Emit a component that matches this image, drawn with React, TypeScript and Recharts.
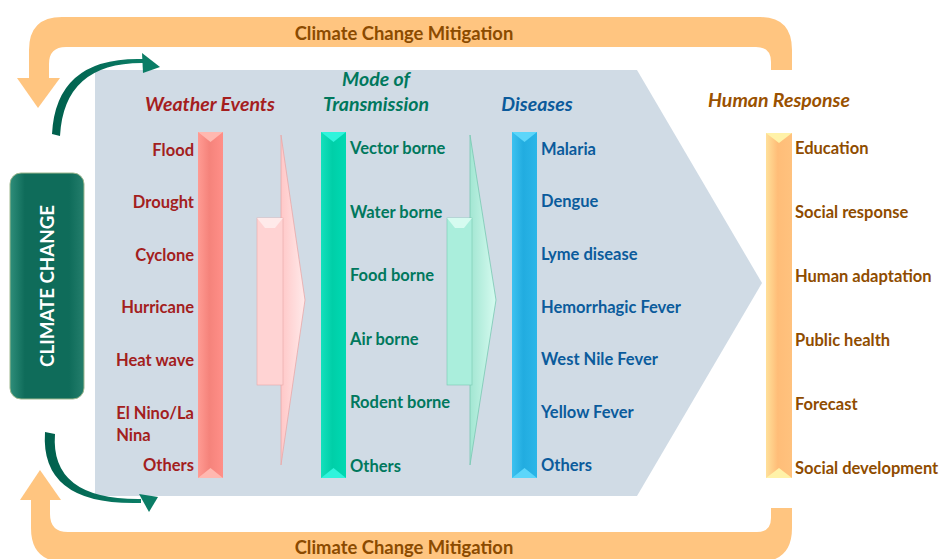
import React from 'react';
import { ComposedChart, XAxis, YAxis, Scatter, Customized } from 'recharts';

// chart content
const weatherEvents = ['Flood', 'Drought', 'Cyclone', 'Hurricane', 'Heat wave', 'El Nino/La Nina', 'Others'];
const transmissionModes = ['Vector borne', 'Water borne', 'Food borne', 'Air borne', 'Rodent borne', 'Others'];
const diseases = ['Malaria', 'Dengue', 'Lyme disease', 'Hemorrhagic Fever', 'West Nile Fever', 'Yellow Fever', 'Others'];
const humanResponses = ['Education', 'Social response', 'Human adaptation', 'Public health', 'Forecast', 'Social development'];
const columnTitles = ['Weather Events', 'Mode of Transmission', 'Diseases', 'Human Response'];
const mitigationLabel = 'Climate Change Mitigation';
const centerLabel = 'CLIMATE CHANGE';

const W = 941;
const H = 559;
const FONT = 'Lato, "Open Sans", sans-serif';
const LABEL_SIZE = 16.5;
const LABEL_FONT = `700 ${LABEL_SIZE}px ${FONT}`;

type Column = {
  id: string;
  labels: string[];
  x: number;
  anchor: 'start' | 'end';
  top: number;
  step: number;
  color: string;
  wrap?: number;
};

const COLUMNS: Column[] = [
  { id: 'weather', labels: weatherEvents, x: 194, anchor: 'end', top: 149.5, step: 52.6, color: '#a3201d', wrap: 90 },
  { id: 'transmission', labels: transmissionModes, x: 350, anchor: 'start', top: 148, step: 63.6, color: '#00785d' },
  { id: 'diseases', labels: diseases, x: 541, anchor: 'start', top: 148.6, step: 52.7, color: '#0b5b9c' },
  { id: 'response', labels: humanResponses, x: 795, anchor: 'start', top: 147.5, step: 64, color: '#8f4c00' },
];

const BARS = [
  { x: 198, w: 25, top: 132, bottom: 478, left: '#ff9b93', mid: '#f5837b', right: '#ff8f88', bevel: '#ffb8b0' },
  { x: 321, w: 25, top: 132, bottom: 478, left: '#14e0bc', mid: '#00cfa8', right: '#00d9b2', bevel: '#30f4dc' },
  { x: 512, w: 25, top: 132, bottom: 478, left: '#3cc2f0', mid: '#22ace0', right: '#2bb6e8', bevel: '#5cd6fa' },
  { x: 766, w: 26, top: 133, bottom: 478, left: '#ffe09a', mid: '#ffbd78', right: '#ffc27e', bevel: '#fff2a8' },
];

const ARROWS = [
  { x: 257, w: 26, top: 218, bottom: 385, headTop: 135, headBottom: 465, tip: 305, body: '#ffd3d3', head: '#ffc8c8', light: '#ffeaea', edge: '#e8a8a8' },
  { x: 447, w: 25, top: 218, bottom: 385, headTop: 135, headBottom: 465, tip: 496, body: '#aaeedc', head: '#a2e6d2', light: '#d6fbf0', edge: '#78c8b2' },
];

let measureCtx: CanvasRenderingContext2D | null = null;
function textWidth(s: string, font: string) {
  if (!measureCtx) measureCtx = document.createElement('canvas').getContext('2d');
  if (!measureCtx) return s.length * 8;
  measureCtx.font = font;
  return measureCtx.measureText(s).width;
}

function wrapText(label: string, max: number, font: string) {
  const words = label.split(' ');
  const lines: string[] = [];
  let cur = '';
  words.forEach((w) => {
    const next = cur ? cur + ' ' + w : w;
    if (cur && textWidth(next, font) > max) {
      lines.push(cur);
      cur = w;
    } else {
      cur = next;
    }
  });
  if (cur) lines.push(cur);
  return lines;
}

const makeLabel = (col: Column) => (props: any) => {
  const { cx, cy, payload } = props;
  const lines = col.wrap ? wrapText(payload.name, col.wrap, LABEL_FONT) : [payload.name];
  const common = {
    fontFamily: FONT,
    fontWeight: 700,
    fontSize: LABEL_SIZE,
    fill: col.color,
    dominantBaseline: 'central' as const,
  };
  if (lines.length === 1) {
    return (
      <text x={cx} y={cy} textAnchor={col.anchor} {...common}>
        {payload.name}
      </text>
    );
  }
  const x0 = col.anchor === 'end' ? cx - textWidth(lines[0], LABEL_FONT) : cx;
  return (
    <text x={x0} y={cy} textAnchor="start" {...common}>
      {lines.map((l, i) => (
        <tspan key={i} x={x0} dy={i === 0 ? 0 : 22}>
          {l}
        </tspan>
      ))}
    </text>
  );
};

function Decor() {
  const titleStyle = { fontFamily: FONT, fontWeight: 700, fontStyle: 'italic' as const, fontSize: 19.5 };
  return (
    <g>
      <defs>
        {BARS.map((b, i) => (
          <linearGradient key={i} id={`bar${i}`} x1="0" x2="1" y1="0" y2="0">
            <stop offset="0" stopColor={b.left} />
            <stop offset="0.45" stopColor={b.mid} />
            <stop offset="1" stopColor={b.right} />
          </linearGradient>
        ))}
        {ARROWS.map((a, i) => (
          <linearGradient key={i} id={`arr${i}`} x1="0" x2="1" y1="0" y2="0">
            <stop offset="0" stopColor={a.head} />
            <stop offset="1" stopColor={a.light} />
          </linearGradient>
        ))}
        <linearGradient id="box" x1="0" x2="1" y1="0" y2="0">
          <stop offset="0" stopColor="#2f8e7a" />
          <stop offset="0.2" stopColor="#0f6c5a" />
          <stop offset="0.8" stopColor="#0f6c5a" />
          <stop offset="1" stopColor="#247e6c" />
        </linearGradient>
        <linearGradient id="swoosh" x1="0" x2="1" y1="0" y2="0">
          <stop offset="0" stopColor="#005f4c" />
          <stop offset="1" stopColor="#0b7d66" />
        </linearGradient>
      </defs>

      {/* big chevron background */}
      <polygon points="95,70 637,70 762,283 637,496 95,496" fill="#d0dbe5" />

      {/* orange mitigation loops */}
      <path
        d="M29,78 L29,50 Q29,17 62,17 L760,17 Q792,17 792,50 L792,70 L771,70 L771,62 Q771,47 756,47 L66,47 Q49,47 49,64 L49,78 Z"
        fill="#ffc580"
      />
      <polygon points="17,78 60,78 38,108" fill="#ffc580" />
      <path
        d="M31,500 L31,528 Q31,562 65,562 L758,562 Q792,562 792,528 L792,508 L771,508 L771,518 Q771,532 757,532 L68,532 Q50,532 50,514 L50,500 Z"
        fill="#ffc580"
      />
      <polygon points="20,500 61,500 40,470" fill="#ffc580" />
      <text x={404} y={33} textAnchor="middle" dominantBaseline="central" fontFamily={FONT} fontWeight={700} fontSize={18.4} fill="#8b4b00">
        {mitigationLabel}
      </text>
      <text x={404} y={547} textAnchor="middle" dominantBaseline="central" fontFamily={FONT} fontWeight={700} fontSize={18.4} fill="#8b4b00">
        {mitigationLabel}
      </text>

      {/* green swooshes */}
      <path d="M52,134 Q56,56 144,59 L144,63 Q64,62 60,136 Z" fill="url(#swoosh)" />
      <polygon points="142,53 160,67 143,73" fill="#0b7d66" />
      <path d="M45,432 Q40,506 141,503 L141,499 Q50,500 55,434 Z" fill="url(#swoosh)" />
      <polygon points="139,494 158,497 149,512" fill="#0b7d66" />

      {/* climate change box */}
      <rect x={10} y={173} width={74} height={226} rx={11} fill="url(#box)" stroke="#9fb88e" strokeWidth={1} />
      <text
        x={47}
        y={286}
        transform="rotate(-90 47 286)"
        textAnchor="middle"
        dominantBaseline="central"
        fontFamily={FONT}
        fontWeight={700}
        fontSize={18.7}
        fill="#ffffff"
      >
        {centerLabel}
      </text>

      {/* column bars */}
      {BARS.map((b, i) => (
        <g key={i}>
          <rect x={b.x} y={b.top} width={b.w} height={b.bottom - b.top} fill={`url(#bar${i})`} />
          <polygon points={`${b.x},${b.top} ${b.x + b.w},${b.top} ${b.x + b.w / 2},${b.top + 10}`} fill={b.bevel} />
          <polygon points={`${b.x},${b.bottom} ${b.x + b.w},${b.bottom} ${b.x + b.w / 2},${b.bottom - 10}`} fill={b.bevel} />
        </g>
      ))}

      {/* arrows between columns */}
      {ARROWS.map((a, i) => (
        <g key={i}>
          <polygon
            points={`${a.x + a.w - 2},${a.headTop} ${a.tip},300 ${a.x + a.w - 2},${a.headBottom}`}
            fill={`url(#arr${i})`}
            stroke={a.edge}
            strokeWidth={0.8}
          />
          <rect x={a.x} y={a.top} width={a.w} height={a.bottom - a.top} fill={a.body} stroke={a.edge} strokeWidth={0.6} />
          <polygon points={`${a.x},${a.top} ${a.x + a.w},${a.top} ${a.x + a.w - 8},${a.top + 10} ${a.x + 8},${a.top + 10}`} fill={a.light} />
        </g>
      ))}

      {/* column titles */}
      <text x={210} y={103} textAnchor="middle" dominantBaseline="central" {...titleStyle} fill="#a51e1e">
        {columnTitles[0]}
      </text>
      <text x={376} y={78} textAnchor="middle" dominantBaseline="central" {...titleStyle} fill="#00785d">
        {columnTitles[1].split(' ').slice(0, 2).join(' ')}
      </text>
      <text x={376} y={103} textAnchor="middle" dominantBaseline="central" {...titleStyle} fill="#00785d">
        {columnTitles[1].split(' ').slice(2).join(' ')}
      </text>
      <text x={537} y={103} textAnchor="middle" dominantBaseline="central" {...titleStyle} fill="#0b5a9b">
        {columnTitles[2]}
      </text>
      <text x={779} y={99} textAnchor="middle" dominantBaseline="central" {...titleStyle} fill="#9a5100">
        {columnTitles[3]}
      </text>
    </g>
  );
}

export default function App() {
  return (
    <div style={{ position: 'absolute', left: 0, top: 0, width: W, height: H, background: '#ffffff' }}>
      <ComposedChart width={W} height={H} margin={{ top: 0, right: 0, bottom: 0, left: 0 }}>
        <XAxis type="number" dataKey="x" domain={[0, W]} allowDataOverflow hide />
        {COLUMNS.map((c) => (
          <YAxis
            key={c.id}
            yAxisId={c.id}
            type="number"
            dataKey="y"
            domain={[-c.top / c.step, (H - c.top) / c.step]}
            allowDataOverflow
            reversed
            hide
          />
        ))}
        <Customized component={Decor} />
        {COLUMNS.map((c) => (
          <Scatter
            key={c.id}
            yAxisId={c.id}
            data={c.labels.map((name, i) => ({ x: c.x, y: i, name }))}
            shape={makeLabel(c)}
            isAnimationActive={false}
          />
        ))}
      </ComposedChart>
    </div>
  );
}
